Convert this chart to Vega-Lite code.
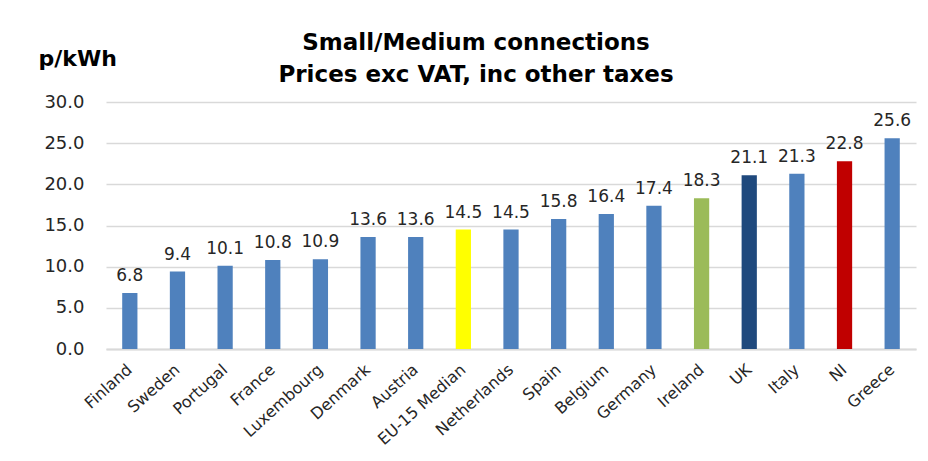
{
  "$schema": "https://vega.github.io/schema/vega-lite/v6.json",
  "autosize": "none",
  "width": 810,
  "height": 247,
  "padding": {"left": 106, "top": 102, "right": 12, "bottom": 112},
  "background": "white",
  "config": {"view": {"stroke": null}, "font": "DejaVu Sans"},
  "title": {
    "text": ["Small/Medium connections", "Prices exc VAT, inc other taxes"],
    "anchor": "middle",
    "dx": -35,
    "offset": -40,
    "fontSize": 23,
    "fontWeight": "bold",
    "lineHeight": 32,
    "color": "#000000",
    "font": "DejaVu Sans"
  },
  "data": {
    "values": [
      {"country": "Finland", "price": 6.8, "group": "other"},
      {"country": "Sweden", "price": 9.4, "group": "other"},
      {"country": "Portugal", "price": 10.1, "group": "other"},
      {"country": "France", "price": 10.8, "group": "other"},
      {"country": "Luxembourg", "price": 10.9, "group": "other"},
      {"country": "Denmark", "price": 13.6, "group": "other"},
      {"country": "Austria", "price": 13.6, "group": "other"},
      {"country": "EU-15 Median", "price": 14.5, "group": "median"},
      {"country": "Netherlands", "price": 14.5, "group": "other"},
      {"country": "Spain", "price": 15.8, "group": "other"},
      {"country": "Belgium", "price": 16.4, "group": "other"},
      {"country": "Germany", "price": 17.4, "group": "other"},
      {"country": "Ireland", "price": 18.3, "group": "ireland"},
      {"country": "UK", "price": 21.1, "group": "uk"},
      {"country": "Italy", "price": 21.3, "group": "other"},
      {"country": "NI", "price": 22.8, "group": "ni"},
      {"country": "Greece", "price": 25.6, "group": "other"}
    ]
  },
  "encoding": {
    "x": {
      "field": "country",
      "type": "nominal",
      "sort": null,
      "scale": {"paddingInner": 0.68, "paddingOuter": 0.34},
      "axis": {
        "title": null,
        "labelAngle": -42,
        "labelAlign": "right",
        "labelBaseline": "middle",
        "labelFontSize": 16,
        "labelColor": "#262626",
        "labelPadding": 18,
        "ticks": false,
        "domainColor": "#d9d9d9",
        "domainWidth": 2
      }
    },
    "y": {
      "field": "price",
      "type": "quantitative",
      "scale": {"domain": [0, 30]},
      "axis": {
        "values": [0, 5, 10, 15, 20, 25, 30],
        "format": ".1f",
        "title": "p/kWh",
        "titleAngle": 0,
        "titleX": -68,
        "titleY": -37,
        "titleAlign": "left",
        "titleBaseline": "alphabetic",
        "titleFontSize": 22,
        "titleFontWeight": "bold",
        "titleColor": "#000000",
        "labelFontSize": 18,
        "labelColor": "#262626",
        "labelPadding": 22,
        "ticks": false,
        "domain": false,
        "gridColor": "#d9d9d9",
        "gridWidth": 1.5
      }
    }
  },
  "layer": [
    {
      "mark": {"type": "bar"},
      "encoding": {
        "color": {
          "field": "group",
          "type": "nominal",
          "scale": {
            "domain": ["other", "median", "ireland", "uk", "ni"],
            "range": ["#4F81BD", "#FFFF00", "#9BBB59", "#1F497D", "#C00000"]
          },
          "legend": null
        }
      }
    },
    {
      "mark": {"type": "text", "baseline": "bottom", "dy": -8, "fontSize": 17, "color": "#262626"},
      "encoding": {
        "text": {"field": "price", "type": "quantitative", "format": ".1f"}
      }
    }
  ]
}
